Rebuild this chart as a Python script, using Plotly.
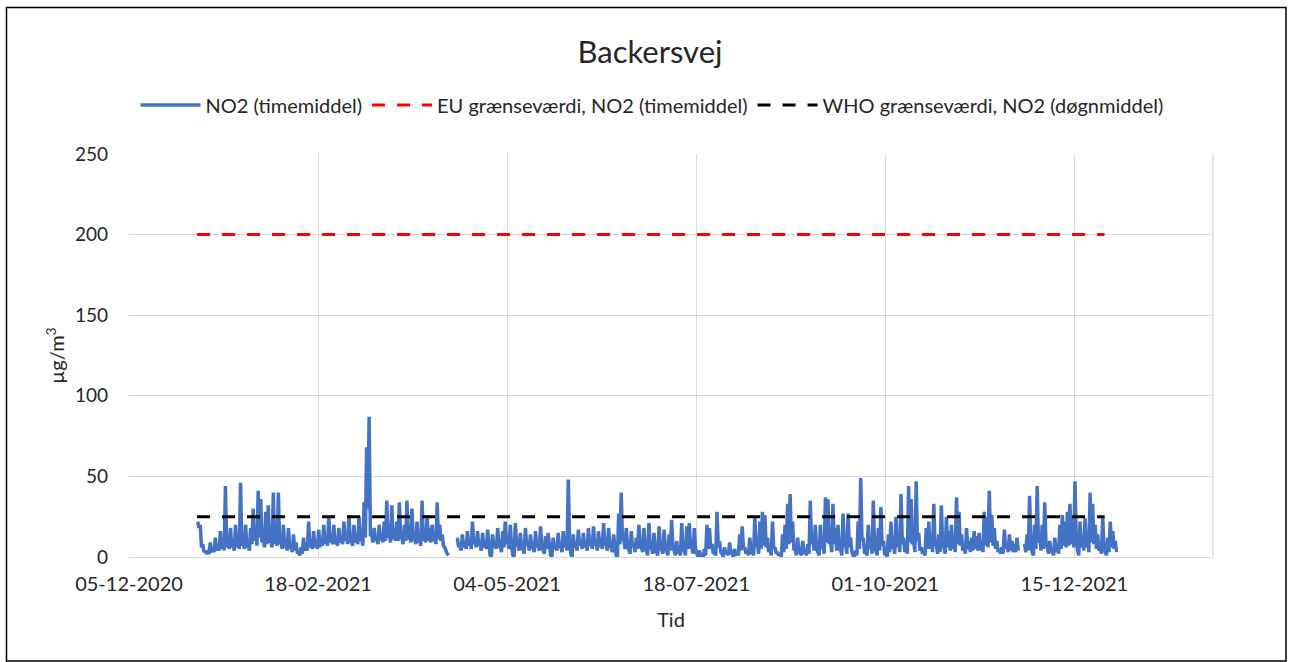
import pandas as pd
import plotly.graph_objects as go

# NO2 hourly values, read approx. twice per day from the picture (daily peak, daily low), µg/m3
jan = [22, 20, 8, 4, 3, 9, 5, 12, 8, 16, 10, 44, 12, 18, 8, 20, 12, 46, 10, 20, 8, 18, 30, 18, 41, 36, 12, 28, 32, 10, 40]
feb = [15, 40, 12, 20, 10, 18, 8, 14, 9, 3, 6, 12, 8, 22, 11, 16, 10, 17, 12, 20, 14, 25, 12, 20, 10, 18, 12, 22]
mar = [14, 26, 10, 20, 12, 25, 12, 34, 68, 87, 14, 18, 12, 20, 14, 22, 35, 15, 32, 18, 22, 34, 12, 20, 35, 16, 30, 12, 22, 10, 35]
apr = [14, 26, 18, 20, 14, 34, 20, 14, 6, 2, None, None, None, 12, 8, 14, 9, 16, 10, 22, 11, 16, 8, 15, 10, 17, 1, 14, 9, 18]
may = [7, 16, 22, 10, 20, 1, 21, 8, 15, 5, 18, 9, 14, 6, 16, 8, 19, 5, 13, 15, 1, 12, 8, 15, 7, 16, 10, 48, 2, 14, 9]
jun = [17, 10, 15, 8, 18, 10, 19, 9, 16, 12, 21, 8, 18, 6, 14, 1, 27, 40, 12, 18, 5, 16, 8, 12, 20, 6, 18, 4, 21, 6]
jul = [15, 3, 19, 5, 17, 4, 14, 23, 4, 10, 3, 21, 4, 19, 21, 6, 18, 2, 4, 1, 5, 20, 18, 8, 3, 28, 10, 2, 6, 3, 9]
aug = [2, 5, 3, 14, 19, 6, 4, 12, 3, 25, 8, 22, 28, 26, 12, 5, 22, 6, 3, 2, 14, 20, 33, 39, 22, 5, 12, 3, 10, 4, 8]
sep = [35, 14, 20, 3, 20, 8, 37, 36, 12, 33, 18, 20, 5, 27, 8, 27, 12, 1, 4, 22, 49, 12, 3, 20, 8, 35, 4, 18, 31, 10]
oct_ = [2, 14, 22, 8, 25, 12, 39, 12, 8, 44, 36, 10, 47, 15, 6, 3, 18, 22, 14, 33, 8, 14, 32, 6, 25, 16, 20, 12, 37, 28, 14]
nov = [8, 18, 10, 12, 16, 13, 15, 10, 28, 25, 41, 26, 18, 10, 5, 6, 17, 8, 14, 10, 8, 12, None, None, 8, 14, 38, 3, 20, 44]
dec = [15, 20, 34, 6, 10, 4, 12, 8, 20, 26, 22, 28, 33, 24, 47, 4, 22, 14, 24, 12, 40, 33, 20, 14, 6, 25, 3, 12, 22, 16, 10]

jan_low = [18, 6, 3, 2, 2, 3, 3, 4, 4, 5, 4, 6, 5, 6, 4, 6, 5, 7, 5, 6, 4, 8, 10, 7, 12, 9, 6, 8, 9, 6, 8]
feb_low = [7, 8, 5, 6, 4, 5, 3, 4, 3, 1, 2, 4, 4, 6, 5, 6, 5, 6, 7, 8, 7, 9, 8, 8, 7, 9, 8, 10]
mar_low = [8, 10, 7, 9, 8, 10, 7, 12, 30, 14, 9, 10, 8, 10, 9, 10, 12, 9, 11, 10, 10, 12, 8, 10, 11, 9, 10, 8, 9, 7, 10]
apr_low = [9, 10, 9, 10, 8, 11, 10, 7, 3, 1, None, None, None, 6, 4, 6, 5, 7, 5, 8, 6, 7, 4, 6, 5, 7, 0, 6, 5, 7]
may_low = [3, 6, 8, 5, 7, 0, 8, 4, 6, 2, 7, 4, 6, 3, 6, 4, 7, 2, 5, 6, 0, 5, 4, 6, 3, 6, 4, 12, 0, 6, 4]
jun_low = [7, 5, 6, 4, 7, 5, 7, 4, 6, 5, 8, 4, 7, 3, 6, 0, 8, 10, 5, 7, 2, 6, 3, 5, 7, 3, 6, 1, 6, 2]
jul_low = [5, 1, 6, 2, 5, 1, 4, 6, 1, 3, 1, 5, 1, 5, 6, 2, 5, 0, 1, 0, 1, 5, 5, 2, 1, 6, 3, 0, 2, 1, 3]
aug_low = [0, 1, 1, 4, 5, 2, 1, 3, 1, 6, 2, 5, 7, 6, 3, 1, 5, 2, 1, 0, 3, 5, 8, 9, 5, 1, 3, 1, 2, 1, 2]
sep_low = [8, 4, 5, 1, 5, 2, 9, 8, 3, 8, 4, 5, 1, 6, 2, 6, 3, 0, 1, 5, 10, 3, 1, 5, 2, 7, 1, 4, 7, 2]
oct_low = [0, 3, 5, 2, 6, 3, 8, 3, 2, 9, 8, 3, 10, 4, 2, 1, 5, 5, 3, 7, 2, 3, 7, 2, 6, 4, 5, 3, 8, 7, 4]
nov_low = [2, 5, 3, 4, 5, 4, 4, 3, 7, 6, 9, 7, 5, 3, 2, 2, 5, 3, 4, 3, 3, 4, None, None, 3, 4, 8, 1, 5, 9]
dec_low = [4, 5, 8, 2, 3, 1, 3, 2, 5, 7, 6, 7, 8, 6, 10, 1, 6, 4, 6, 3, 9, 8, 5, 4, 2, 6, 1, 3, 6, 5, 3]

month_starts = ["2021-01-01", "2021-02-01", "2021-03-01", "2021-04-01", "2021-05-01", "2021-06-01",
                "2021-07-01", "2021-08-01", "2021-09-01", "2021-10-01", "2021-11-01", "2021-12-01"]
months = [jan, feb, mar, apr, may, jun, jul, aug, sep, oct_, nov, dec]
months_low = [jan_low, feb_low, mar_low, apr_low, may_low, jun_low,
              jul_low, aug_low, sep_low, oct_low, nov_low, dec_low]

limit_dates = ["2021-01-01", "2021-12-27"]
eu_limit = [200, 200]
who_limit = [25, 25]

tick_dates = ["2020-12-05", "2021-02-18", "2021-05-04", "2021-07-18", "2021-10-01", "2021-12-15"]
tick_labels = ["05-12-2020", "18-02-2021", "04-05-2021", "18-07-2021", "01-10-2021", "15-12-2021"]
y_ticks = [0, 50, 100, 150, 200, 250]

# hourly-like series: peak reading at 06:00, low reading at 18:00 each day
dates, values = [], []
for start, hi, lo in zip(month_starts, months, months_low):
    days = pd.date_range(start, periods=len(hi), freq="D")
    for d, h, l in zip(days, hi, lo):
        dates += [d + pd.Timedelta(hours=6), d + pd.Timedelta(hours=18)]
        values += [h, l]

FONT = "Lato, 'Open Sans', sans-serif"
TXT = "#262626"

fig = go.Figure()
fig.add_trace(go.Scatter(x=dates, y=values, mode="lines", name="NO2 (timemiddel)",
                         line=dict(color="#4472C4", width=3.5), connectgaps=False))
fig.add_trace(go.Scatter(x=limit_dates, y=eu_limit, mode="lines", name="EU grænseværdi, NO2 (timemiddel)",
                         line=dict(color="#FF0000", width=3, dash="13px,12px")))
fig.add_trace(go.Scatter(x=limit_dates, y=who_limit, mode="lines", name="WHO grænseværdi, NO2 (døgnmiddel)",
                         line=dict(color="#000000", width=3, dash="13px,12px")))

L, R, T, B = 129, 1213, 154, 557
W, H = 1292, 662
pw, ph = R - L, B - T
def px(x): return (x - L) / pw
def py(y): return (B - y) / ph

fig.update_layout(
    width=W, height=H,
    margin=dict(l=L, r=W - R, t=T, b=H - B),
    paper_bgcolor="white", plot_bgcolor="white",
    font=dict(family=FONT, color=TXT, size=19),
    title=dict(text="Backersvej", x=650 / W, xanchor="center", y=1 - 52 / H, yanchor="middle",
               font=dict(size=31, color=TXT, family=FONT)),
    showlegend=True,
    legend=dict(orientation="h", x=px(652), xanchor="center", y=py(105), yanchor="middle",
                font=dict(size=20, color=TXT), itemwidth=60, bgcolor="rgba(0,0,0,0)"),
    xaxis=dict(type="date", range=["2020-12-05", "2022-02-08"],
               tickvals=tick_dates, ticktext=tick_labels,
               showgrid=True, gridcolor="#D9D9D9", gridwidth=1.3,
               showline=True, linecolor="#D9D9D9", linewidth=1.3,
               ticks="", tickfont=dict(size=20, color=TXT), ticklabelstandoff=9,
               title=dict(text="Tid", font=dict(size=20, color=TXT), standoff=18),
               zeroline=False),
    yaxis=dict(range=[0, 250], tickvals=y_ticks,
               showgrid=True, gridcolor="#D9D9D9", gridwidth=1.3,
               showline=False, ticks="", tickfont=dict(size=19, color=TXT),
               ticklabelstandoff=20,
               title=dict(text="µg/m<sup>3</sup>", font=dict(size=20, color=TXT), standoff=4),
               zeroline=False),
    shapes=[
        dict(type="line", xref="paper", yref="paper", x0=1, x1=1, y0=0, y1=1,
             line=dict(color="#D9D9D9", width=1.3), layer="below"),
        dict(type="rect", xref="paper", yref="paper",
             x0=px(6.5), x1=px(1286), y0=py(661), y1=py(7.5),
             line=dict(color="#000000", width=1.5), fillcolor="rgba(0,0,0,0)"),
    ],
)

fig.write_html("out.html", config={"displayModeBar": False})
with open("out.html", "r", encoding="utf-8") as f:
    html = f.read()
html = html.replace("<head>", "<head><style>html,body{margin:0;padding:0;overflow:hidden;background:#fff}</style>", 1)
with open("out.html", "w", encoding="utf-8") as f:
    f.write(html)
